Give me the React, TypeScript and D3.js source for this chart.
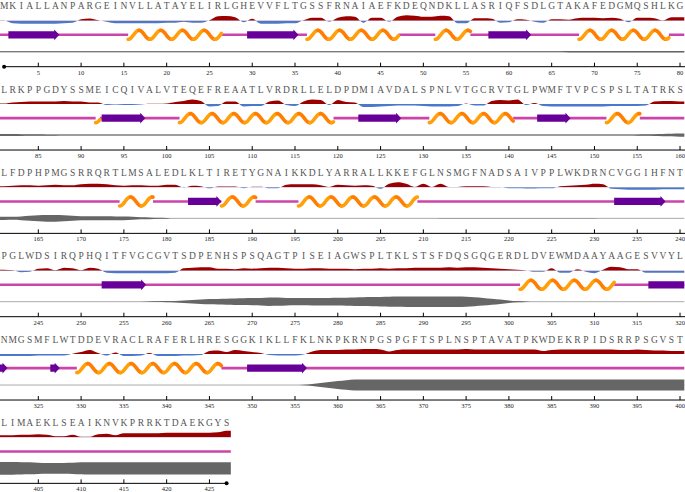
import React from 'react';
import * as d3 from 'd3';

// sequence, 80 residues per row
const sequenceRows = [
  'MKIALLANPARGEINVLLATAYELIRLGHEVVFLTGSSFRNAIAEFKDEQNDKLLASRIQFSDLGTAKAFEDGMQSHLKG',
  'LRKPPGDYSSMEICQIVALVTEQEFREAATLVRDRLLELDPDMIAVDALSPNLVTGCRVTGLPWMFTVPCSPSLTATRKS',
  'LFDPHPMGSRRQRTLMSALEDLKLTIRETYGNAIKKDLYARRALLKKEFGLNSMGFNADSAIVPPLWKDRNCVGGIHFNT',
  'PGLWDSIRQPHQITFVGCGVTSDPENHSPSQAGTPISEIAGWSPLTKLSTSFDQSGQGERDLDVEWMDAAYAAGESVVYL',
  'NMGSMFLWTDDEVRACLRAFERLHRESGGKIKLLFKLNKPKRNPGSPGFTSPLNSPTAVATPKWDEKRPIDSRRPSGVST',
  'LIMAEKLSEAIKNVKPRRKTDAEKGYS',
];

// hydropathy profile (positive = red, up; negative = blue, down)
const hydroRow1 = [0.3, -2.5, -3, -3, -3, -3, -3, -2.5, -2, 1.5,
  2.3, 0.5, -1, -2.5, -2.5, -2.5, -2.5, -2.5, -2.5, -2,
  -2, -1, -2, -2, 0.5, 4.5, 4.7, 3.5, -1.5, 2,
  -3, -3, -3, -2.5, -2.5, 0.5, 3, 3, -1, 3,
  4.5, 4, -2, 3, 3, -1, 4, 5.5, 5, 4,
  4, 5, 4.5, -2.5, -2.5, 2.5, 2.5, 2, -2, -1.5,
  1.5, 1, -1, -2, 1.5, 1.5, 1, 2.5, 3, 3,
  2.5, 3, 2, -1.5, 3, 3, 2.5, 0.3, 3.5, 3.5];
const hydroRow2 = [0.5, 1.5, 2, 2.5, 2.5, 2.5, 2.5, 3, 2.5, 2.5,
  1.5, 1.5, -1, -0.5, -1, -1, -0.5, 0.3, 0.3, 0.5,
  2, 3, 4.5, 3, -2.5, -2, 2.5, 2.5, -2.5, -2,
  -2, 2.5, 3.5, -1, -2, 2.5, 4.5, 4, -1, 4,
  2, 1.5, -3, -3, -2.5, -2, -1.5, -1.5, -1.5, -2,
  -2.5, -2.5, -2.5, -2, 0.5, -1.5, -1.5, 3, 4, 3.5,
  4.5, -1, 1, -2, -2.5, -2.5, -2.5, -2.5, -2.5, -2.5,
  -2.5, -2, -2, -2, -2, -1.5, 2.5, 3, 3, 2.5];
const hydroRow3 = [1, 1.5, 2, 2, 1.5, 2, 2.5, 2, 2, 3,
  3.5, 3.5, 3, 2, 1.5, 2, 2, 1.5, 1.5, 2.5,
  2.5, -0.3, 1.5, 1, -1, 0.8, 0.8, 0.8, -0.8, 0.5,
  0.5, -1, -0.8, 2.5, 3, 3, 3, 2, 0.3, 2.5,
  2, 1.5, 2, 1.5, -1.5, 3.5, 5, 3.5, 0.3, 3.5,
  0.3, 3.5, 0.3, 0.3, 1, 1, 1, 0.3, 0.3, -1,
  -1, -1.2, -1.2, -1, -1, 1, 1.5, 2, 2.5, 3.5,
  3, -1.5, -2, -2.5, -2.5, -2.5, -2.5, -2, -2, -2];
const hydroRow4 = [1, 0.5, -1.5, -1, 2, 2.5, 0.5, 3, 2.5, 0.5,
  3, 2, -2, -2.5, -2.5, -2.5, -2.5, -2.5, -2.5, -2.5,
  -2, 2.5, 3, 3.5, 3.5, 2, 2, 1.5, 2.5, 2,
  2.5, 3, 3, 2.5, 2, 2, 2.5, 2.5, 2, 2,
  2, 1.5, 2, 2, 2.5, 2, 2.5, 2.5, 3, 3,
  3, 3, 3.5, 3, 3.5, 3.5, 3, 2.5, 2, 1.5,
  1, 0.3, -1, -1, 2.5, -2, -2, 1.5, -1, -2.5,
  1, 4, 3.5, 1.5, 1.5, -2, -2, -2, -2, -2];
const hydroRow5 = [-2, -2, -2, -2, -1.5, -1.5, -1.5, -1.5, 0.3, 2,
  4, 1, -1.5, 1.5, -2, -2, -1.5, 1, -2, -2,
  -2, -1.5, -1.5, -1, 3, 3.5, 2, 4, 3, 2,
  1, -1, -1.5, -1.5, -1.5, -0.5, 2.5, 4, 4, 4,
  4.5, 4.5, 5, 5, 4.5, 2.5, 4, 4.5, 4.5, 4.5,
  4.5, 4.5, 4.5, 4.5, 5, 4.5, 4.5, 4.5, 4.5, 4.5,
  4.5, 4.5, 4.5, 3, 4, 4.5, 4.5, 4.5, 4.5, 4.5,
  4.5, 4.5, 4, 4, 4.5, 4, 3.5, 3.5, 3, 3];
const hydroRow6 = [2, 2, 2.5, 2.5, 3, 2.5, 1, 1, 2.5, 0.5,
  0.5, 3, 3.5, 2, 4, 4, 4, 4, 4, 4.5,
  4.5, 4.5, 4.5, 4.5, 4.5, 5, 6.5];

// disorder profile (half thickness of the grey band)
const disorderRow1 = [0.5, 0.5, 0.5, 0.5, 0.5, 0.5, 0.5, 0.5, 0.5, 0.5, 0.5, 0.5, 0.5, 0.5, 0.5, 0.5, 0.5, 0.5, 0.5, 0.5,
  0.5, 0.5, 0.5, 0.5, 0.5, 0.5, 0.5, 0.5, 0.5, 0.5, 0.5, 0.5, 0.5, 0.5, 0.5, 0.5, 0.5, 0.5, 0.5, 0.5,
  0.5, 0.5, 0.5, 0.5, 0.5, 0.5, 0.5, 0.5, 0.5, 0.5, 0.5, 0.5, 0.5, 0.5, 0.5, 0.5, 0.5, 0.5, 0.5, 0.5,
  0.5, 0.5, 0.5, 0.5, 0.5, 0.5, 0.7, 0.7, 0.7, 0.7, 0.7, 0.7, 0.7, 0.7, 0.7, 0.7, 0.7, 0.7, 0.7, 0.7];
const disorderRow2 = [1, 1, 0.9, 0.8, 0.7, 0.6, 0.6, 0.5, 0.5, 0.5, 0.5, 0.5, 0.5, 0.5, 0.5, 0.5, 0.5, 0.5, 0.5, 0.5,
  0.5, 0.5, 0.5, 0.5, 0.5, 0.5, 0.5, 0.5, 0.5, 0.5, 0.5, 0.5, 0.5, 0.5, 0.5, 0.5, 0.5, 0.5, 0.5, 0.5,
  0.5, 0.5, 0.5, 0.5, 0.5, 0.5, 0.5, 0.5, 0.5, 0.5, 0.5, 0.5, 0.5, 0.5, 0.5, 0.5, 0.5, 0.5, 0.5, 0.5,
  0.5, 0.5, 0.5, 0.5, 0.5, 0.5, 0.5, 0.5, 0.5, 0.5, 0.5, 0.5, 0.5, 0.5, 0.6, 0.7, 0.9, 1.1, 1.3, 1.6];
const disorderRow3 = [1.6, 1.5, 1.8, 2.5, 3, 3.3, 3.3, 3, 2.5, 2, 2, 2, 2, 1.8, 1.8, 1.5, 1, 0.8, 0.5, 0.3,
  0, 0, 0, 0, 0, 0, 0, 0, 0, 0, 0, 0, 0, 0, 0, 0, 0, 0, 0, 0,
  0, 0, 0, 0, 0, 0, 0, 0, 0, 0, 0, 0.2, 0.2, 0.2, 0.2, 0.2, 0.2, 0.2, 0.2, 0.2,
  0.2, 0.2, 0.2, 0.2, 0.2, 0.2, 0.2, 0.2, 0.2, 0.2, 0, 0, 0, 0, 0, 0, 0, 0, 0, 0];
const disorderRow4 = [0, 0, 0, 0, 0, 0, 0, 0, 0, 0, 0, 0, 0, 0, 0, 0, 0, 0.2, 0.4, 0.6,
  0.8, 1.2, 1.8, 2.2, 2.6, 2.8, 3, 3.2, 3.4, 3.6, 3.8, 4.2, 4.1, 3.8, 3.6, 3.6, 3.7, 3.8, 3.8, 3.9,
  4, 4.2, 4.4, 4.6, 4.8, 5, 5.1, 5.2, 5.3, 5.3, 5.3, 5.3, 5.3, 5.2, 5, 4.5, 3.8, 3, 2.2, 1.3,
  0.6, 0.2, 0, 0, 0, 0, 0, 0, 0, 0, 0, 0, 0, 0, 0, 0, 0, 0, 0, 0];
const disorderRow5 = [0, 0, 0, 0, 0, 0, 0, 0, 0, 0, 0, 0, 0, 0, 0, 0, 0, 0, 0, 0,
  0, 0, 0, 0, 0, 0, 0, 0, 0, 0, 0, 0, 0, 0, 0, 0.3, 1, 2, 3, 4,
  4.8, 5.6, 5.6, 5.6, 5.6, 5.6, 5.6, 5.6, 5.6, 5.6, 5.6, 5.6, 5.6, 5.6, 5.6, 5.6, 5.6, 5.6, 5.6, 5.6,
  5.6, 5.6, 5.6, 5.6, 5.6, 5.6, 5.6, 5.6, 5.6, 5.6, 5.6, 5.6, 5.6, 5.6, 5.6, 5.6, 5.6, 5.6, 5.6, 5.6];
const disorderRow6 = [6.3, 6.3, 6.2, 6, 5.6, 5.3, 5.3, 5.4, 5.6, 6,
  6.2, 6.2, 6.2, 6.2, 6.2, 6.2, 6.2, 6.2, 6.2, 6.2, 6.2, 6.2, 6.2, 6.2, 6.2, 6.2, 6.2];

// secondary structure, [start, end] in residue units
const helices = [
  [15.5, 26.4], [36.4, 47.1], [51.4, 55.5], [68.2, 78.7],
  [91.7, 92.2], [101.5, 119.5], [130.7, 140.5], [151.4, 155.3],
  [174.5, 178.4], [186.4, 190.4], [195.4, 209.3],
  [301.3, 312.3],
  [329.5, 346.4],
];
const strands = [
  [1.5, 7.45], [29.4, 35.4], [57.6, 62.6],
  [92.4, 97.5], [122.4, 127.4], [143.3, 147.2],
  [182.5, 186.4], [232.3, 238.3],
  [252.4, 257.6], [316.3, 321.4],
  [326.4, 327.5], [349.4, 356.4],
];

const sequence = sequenceRows.join('');
const hydro = [...hydroRow1, ...hydroRow2, ...hydroRow3, ...hydroRow4, ...hydroRow5, ...hydroRow6];
const disorder = [...disorderRow1, ...disorderRow2, ...disorderRow3, ...disorderRow4, ...disorderRow5, ...disorderRow6];

const W = 685;
const H = 492;
const PER_ROW = 80;
const ROW_H = 83.33;
const X0 = 4.1;
const STEP = 8.556;

const RED = '#9b0000';
const BLUE = '#4a78cc';
const COIL = '#cc44aa';
const STRAND = '#660099';

function helixSegments(x0, x1, cy) {
  const P = 21.7;
  const A = 4.5;
  // starts low, first crest half a period in
  const f = px => cy + A * Math.cos((2 * Math.PI * (px - x0)) / P);
  const line = d3.line();
  const segs = [];
  let a = x0;
  let k = 0;
  while (a < x1 - 0.01) {
    const b = Math.min(x1, x0 + (k + 1) * (P / 2));
    const pts = d3.range(a, b, 0.4).concat([b]).map(px => [px, f(px)]);
    segs.push({ d: line(pts), up: k % 2 === 0 });
    a = b;
    k++;
  }
  return segs;
}

function Row({ r }) {
  const start = r * PER_ROW + 1;
  const end = Math.min(sequence.length, start + PER_ROW - 1);
  const last = end === sequence.length;
  const T = r * ROW_H;
  const x = d3.scaleLinear().domain([start, start + PER_ROW - 1]).range([X0, X0 + (PER_ROW - 1) * STEP]);
  const left = start - 0.5;
  const right = end + 0.5;
  const residues = d3.range(start, end + 1);

  // hydropathy track
  const hBase = T + 20.7;
  const hy = d3.scaleLinear().domain([-6, 6]).range([hBase + 6, hBase - 6]);
  const hPts = [[left, hydro[start - 1]], ...residues.map(i => [i, hydro[i - 1]]), [right, hydro[end - 1]]];
  const hArea = d3.area().x(d => x(d[0])).y0(hy(0)).y1(d => hy(d[1])).curve(d3.curveMonotoneX);

  // disorder track
  const dBase = T + 51.7;
  const dPts = [[left, disorder[start - 1]], ...residues.map(i => [i, disorder[i - 1]]), [right, disorder[end - 1]]];
  const dArea = d3.area().x(d => x(d[0])).y0(d => dBase - d[1]).y1(d => dBase + d[1]).curve(d3.curveMonotoneX);

  // secondary structure
  const sBase = T + 34.8;
  const clip = ([s, e]) => [Math.max(s, left), Math.min(e, right), e <= right];
  const rowHelices = helices.filter(([s, e]) => e > left && s < right).map(clip);
  const rowStrands = strands.filter(([s, e]) => e > left && s < right).map(clip);

  const axisY = T + 66.7;
  const ticks = d3.range(Math.ceil(start / 5) * 5, end + 1, 5);
  const axisX0 = r === 0 ? x(1) : 0;
  const axisX1 = last ? x(end) : W;

  return (
    <g>
      <defs>
        <clipPath id={`above-${r}`}><rect x={0} y={T} width={W} height={hBase - T} /></clipPath>
        <clipPath id={`below-${r}`}><rect x={0} y={hBase} width={W} height={20} /></clipPath>
      </defs>

      {residues.map(i => (
        <text key={i} x={x(i)} y={T + 9.4} textAnchor="middle" fontSize={9.5}
          fontFamily="'Liberation Serif', serif" fill="#555">{sequence[i - 1]}</text>
      ))}

      <path d={hArea(hPts)} fill={RED} clipPath={`url(#above-${r})`} />
      <path d={hArea(hPts)} fill={BLUE} clipPath={`url(#below-${r})`} />

      <line x1={x(left)} x2={x(right)} y1={sBase} y2={sBase} stroke={COIL} strokeWidth={2.6} />
      {rowHelices.map(([s, e], k) => (
        <g key={`h${k}`}>
          <rect x={x(s)} y={sBase - 2} width={x(e) - x(s)} height={4} fill="#fff" />
          {helixSegments(x(s), x(e), sBase).map((sg, j) => (
            <path key={j} d={sg.d} fill="none" stroke={sg.up ? '#ff9f0a' : '#ff7d00'}
              strokeWidth={3.6} strokeLinecap="round" />
          ))}
        </g>
      ))}
      {rowStrands.map(([s, e, head], k) => {
        const xs = x(s);
        const xe = x(e);
        const hl = head ? Math.min(5, xe - xs) : 0;
        const bh = 3.6;
        const hh = 5.4;
        const pts = head
          ? [[xs, sBase - bh], [xe - hl, sBase - bh], [xe - hl, sBase - hh], [xe, sBase],
             [xe - hl, sBase + hh], [xe - hl, sBase + bh], [xs, sBase + bh]]
          : [[xs, sBase - bh], [xe, sBase - bh], [xe, sBase + bh], [xs, sBase + bh]];
        return <path key={`e${k}`} d={d3.line()(pts) + 'Z'} fill={STRAND} />;
      })}

      <line x1={x(left)} x2={x(right)} y1={dBase} y2={dBase} stroke="#aaa" strokeWidth={1} />
      <path d={dArea(dPts)} fill="#666" />

      <line x1={axisX0} x2={axisX1} y1={axisY} y2={axisY} stroke="#000" strokeWidth={1} />
      {r === 0 && <circle cx={x(1)} cy={axisY} r={2} fill="#000" />}
      {last && <circle cx={x(end)} cy={axisY} r={2} fill="#000" />}
      {ticks.map(t => (
        <g key={t}>
          <line x1={x(t)} x2={x(t)} y1={axisY - 4} y2={axisY} stroke="#000" strokeWidth={1} />
          <text x={x(t)} y={axisY + 8} textAnchor="middle" fontSize={6.5}
            fontFamily="'Liberation Serif', serif" fill="#222">{t}</text>
        </g>
      ))}
    </g>
  );
}

export default function App() {
  const rows = d3.range(Math.ceil(sequence.length / PER_ROW));
  return (
    <div style={{ position: 'fixed', left: 0, top: 0 }}>
      <svg width={W} height={H} style={{ display: 'block', background: '#fff' }}>
        {rows.map(r => <Row key={r} r={r} />)}
      </svg>
    </div>
  );
}
